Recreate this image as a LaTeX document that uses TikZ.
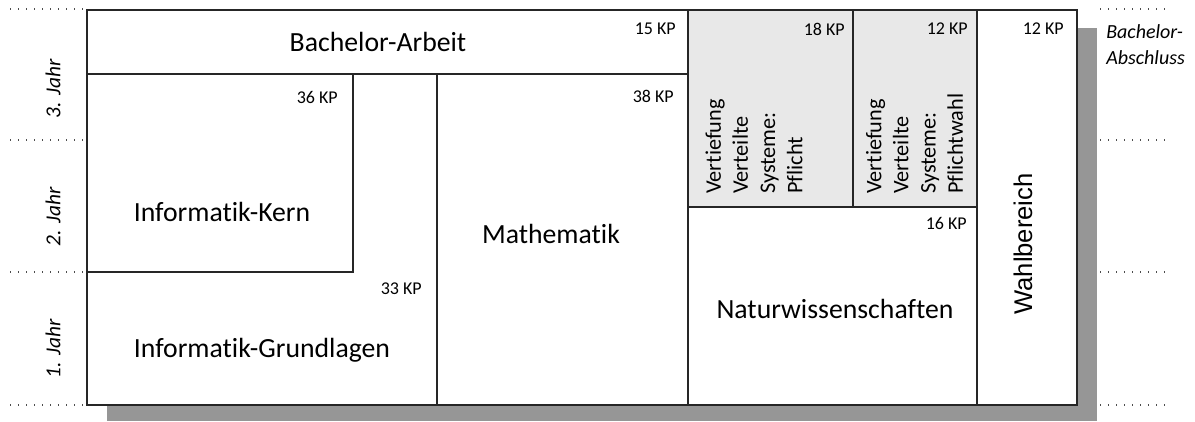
\documentclass[tikz,border=0pt]{standalone}
\usepackage{fontspec}
\setmainfont{Carlito}[Ligatures=NoCommon]
\newfontfamily\arialf{Liberation Sans}
\begin{document}
\begin{tikzpicture}[x=0.75pt,y=-0.75pt,
  box/.style={draw=black!85, line width=0.8pt, fill=white},
  vbox/.style={box, fill=black!9},
  kp/.style={anchor=east, inner sep=0pt, font=\fontsize{13.5}{16}\selectfont},
  lbl/.style={inner sep=0pt, font=\fontsize{20.8}{25}\selectfont},
  vlbl/.style={inner sep=0pt, rotate=90, anchor=west, align=left, font=\fontsize{16.7}{20.4}\selectfont},
  yr/.style={rotate=90, inner sep=0pt, font=\fontsize{16}{19}\selectfont\itshape},
  dots/.style={black!70, line width=0.9pt, dash pattern=on 0.9pt off 5.1pt}]
\useasboundingbox (0,0) rectangle (1195,421);
% shadow
\fill[black!41] (107,28) rectangle (1097,421);
% year separators
\foreach \yy in {9,140,272,405} {
  \draw[dots] (10,\yy) -- (86,\yy);
  \draw[dots] (1100,\yy) -- (1166,\yy);
}
% boxes
\draw[box] (87,10) rectangle (688,74);
\draw[box] (87,74) -- (437,74) -- (437,405) -- (87,405) -- cycle;
\draw[box] (87,74) rectangle (353,272);
\draw[box] (437,74) rectangle (688,405);
\draw[vbox] (688,10) rectangle (853,207);
\draw[vbox] (853,10) rectangle (977,207);
\draw[box] (688,207) rectangle (977,405);
\draw[box] (977,10) rectangle (1077,405);
% labels
\node[lbl] (ba) at (378,42) {Bachelor-Arbeit};
\node[lbl] (ik) at (222,212) {Informatik-Kern};
\node[lbl] (ig) at (262,350) {Informatik-Grundlagen};
\node[lbl] (ma) at (551,234) {Mathematik};
\node[lbl] (nw) at (835,309) {Naturwissenschaften};
\node[inner sep=0pt, rotate=90, font=\arialf\fontsize{19.2}{23}\selectfont] (wb) at (1023,244) {Wahlbereich};
\node[vlbl] (vp) at (754,194) {Vertiefung\\Verteilte\\Systeme:\\Pflicht};
\node[vlbl] (vw) at (914.5,194) {Vertiefung\\Verteilte\\Systeme:\\Pflichtwahl};
% credit points
\node[kp] (k15) at (676,29) {15 KP};
\node[kp] (k36) at (338,97) {36 KP};
\node[kp] (k33) at (422,289) {33 KP};
\node[kp] (k38) at (674,96) {38 KP};
\node[kp] (k18) at (845,29) {18 KP};
\node[kp] (k12a) at (968,29) {12 KP};
\node[kp] (k12b) at (1064,29) {12 KP};
\node[kp] (k16) at (967,223) {16 KP};
% years
\node[yr] (y3) at (53,89) {3. Jahr};
\node[yr] (y2) at (53,217) {2. Jahr};
\node[yr] (y1) at (53,349) {1. Jahr};
% degree
\node[anchor=west, inner sep=0pt, align=left, font=\fontsize{15}{19.5}\selectfont\itshape] (abs) at (1106,45) {Bachelor-\\Abschluss};
\end{tikzpicture}
\end{document}
